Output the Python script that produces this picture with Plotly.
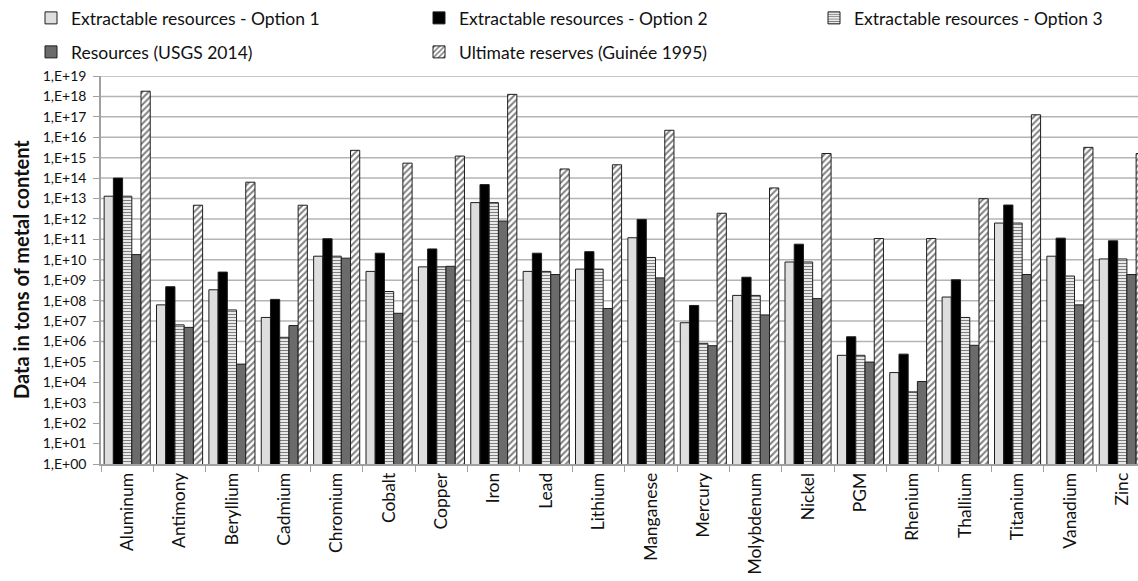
import plotly.graph_objects as go

# Metals on the category axis
metals = ["Aluminum", "Antimony", "Beryllium", "Cadmium", "Chromium", "Cobalt",
          "Copper", "Iron", "Lead", "Lithium", "Manganese", "Mercury",
          "Molybdenum", "Nickel", "PGM", "Rhenium", "Thallium", "Titanium",
          "Vanadium", "Zinc"]

# Tons of metal content per estimate
option1 = [1.3e13, 6.2e7, 3.4e8, 1.5e7, 1.5e10, 2.7e9, 4.5e9, 6.3e12, 2.7e9, 3.5e9,
           1.2e11, 8.3e6, 1.8e8, 7.8e9, 2.1e5, 3.0e4, 1.5e8, 6.3e11, 1.5e10, 1.1e10]
option2 = [1.0e14, 4.8e8, 2.5e9, 1.15e8, 1.07e11, 2.1e10, 3.4e10, 4.8e13, 2.1e10, 2.5e10,
           9.5e11, 5.8e7, 1.4e9, 5.8e10, 1.7e6, 2.4e5, 1.05e9, 4.8e12, 1.15e11, 8.5e10]
option3 = [1.3e13, 6.5e6, 3.5e7, 1.6e6, 1.5e10, 2.8e8, 4.5e9, 6.3e12, 2.7e9, 3.5e9,
           1.3e10, 8.1e5, 1.8e8, 7.8e9, 2.1e5, 3.4e3, 1.5e7, 6.3e11, 1.6e9, 1.1e10]
usgs_2014 = [1.8e10, 4.9e6, 7.8e4, 6.0e6, 1.2e10, 2.4e7, 4.8e9, 7.9e11, 1.9e9, 4.1e7,
             1.3e9, 6.2e5, 2.0e7, 1.26e8, 9.8e4, 1.1e4, 6.5e5, 1.9e9, 6.2e7, 1.9e9]
guinee_1995 = [1.8e18, 4.7e12, 6.3e13, 4.7e12, 2.3e15, 5.4e14, 1.2e15, 1.26e18, 2.8e14, 4.5e14,
               2.2e16, 1.9e12, 3.3e13, 1.6e15, 1.1e11, 1.1e11, 9.8e12, 1.26e17, 3.2e15, 1.6e15]

# Decade ticks of the log axis
exponents = list(range(0, 20))
tick_values = [10.0 ** e for e in exponents]
tick_labels = ["1,E+%02d" % e for e in exponents]
grid_exponents = list(range(6, 20))

FONT = "Lato, 'Open Sans', sans-serif"
EDGE = dict(color="#1e1e1e", width=1)

series = [
    ("Extractable resources - Option 1", option1,
     dict(color="#dedede", line=EDGE), "legend"),
    ("Extractable resources - Option 2", option2,
     dict(color="#000000", line=EDGE), "legend2"),
    ("Extractable resources - Option 3", option3,
     dict(color="#ffffff", line=EDGE,
          pattern=dict(shape="-", fgcolor="#000000", bgcolor="#ffffff",
                       size=3, solidity=0.45)), "legend3"),
    ("Resources (USGS 2014)", usgs_2014,
     dict(color="#6b6b6b", line=EDGE), "legend4"),
    ("Ultimate reserves (Guinée 1995)", guinee_1995,
     dict(color="#ffffff", line=EDGE,
          pattern=dict(shape="/", fgcolor="#000000", bgcolor="#ffffff",
                       size=4.5, solidity=0.45)), "legend5"),
]

fig = go.Figure()
for name, values, marker, leg in series:
    fig.add_trace(go.Bar(x=metals, y=values, name=name, marker=marker,
                         legend=leg))

# Horizontal grid lines from 1E+06 upwards
for e in grid_exponents:
    fig.add_shape(type="line", xref="paper", x0=0, x1=1, yref="y",
                  y0=10.0 ** e, y1=10.0 ** e, layer="below",
                  line=dict(color="#b4b4b4", width=1.5))

W, H = 1138, 581
ML, MR, MT, MB = 101, 0, 76, 117
PW, PH = W - ML - MR, H - MT - MB

leg_font = dict(family=FONT, size=17.5, color="#111111")
legend_pos = {
    "legend": (31, 18),
    "legend2": (419, 18),
    "legend3": (814, 18),
    "legend4": (31, 52),
    "legend5": (419, 52),
}
legends = {}
for key, (px, py) in legend_pos.items():
    legends[key] = dict(xref="paper", yref="paper",
                        x=(px - ML) / PW, y=(H - MB - py) / PH,
                        xanchor="left", yanchor="middle",
                        bgcolor="rgba(0,0,0,0)", font=leg_font, itemwidth=30)

fig.update_layout(
    width=W, height=H,
    margin=dict(l=ML, r=MR, t=MT, b=MB, pad=0, autoexpand=False),
    paper_bgcolor="white", plot_bgcolor="white",
    barmode="group", bargap=0.12, bargroupgap=0,
    showlegend=True,
    font=dict(family=FONT, color="#111111"),
    **legends,
)

# Axis title
fig.add_annotation(text="<b>Data in tons of metal content</b>", textangle=-90,
                   xref="paper", yref="paper", x=(21 - ML) / PW, y=0.5,
                   xanchor="center", yanchor="middle", showarrow=False,
                   font=dict(family=FONT, size=20, color="#111111"))

fig.update_xaxes(
    type="category", range=[-0.5, 19.30],
    tickson="boundaries", ticks="outside", ticklen=6, tickcolor="#a0a0a0",
    showline=True, linecolor="#a0a0a0", linewidth=1.5,
    tickangle=-90, tickfont=dict(family=FONT, size=17.5, color="#111111"),
    showgrid=False,
)
fig.update_yaxes(
    type="log", range=[0, 19],
    tickvals=tick_values, ticktext=tick_labels,
    ticks="outside", ticklen=6, tickcolor="#a0a0a0", ticklabelstandoff=4,
    showline=True, linecolor="#a0a0a0", linewidth=1.5,
    showgrid=False, zeroline=False,
    tickfont=dict(family=FONT, size=14, color="#111111"),
)

fig.write_html("out.html")
